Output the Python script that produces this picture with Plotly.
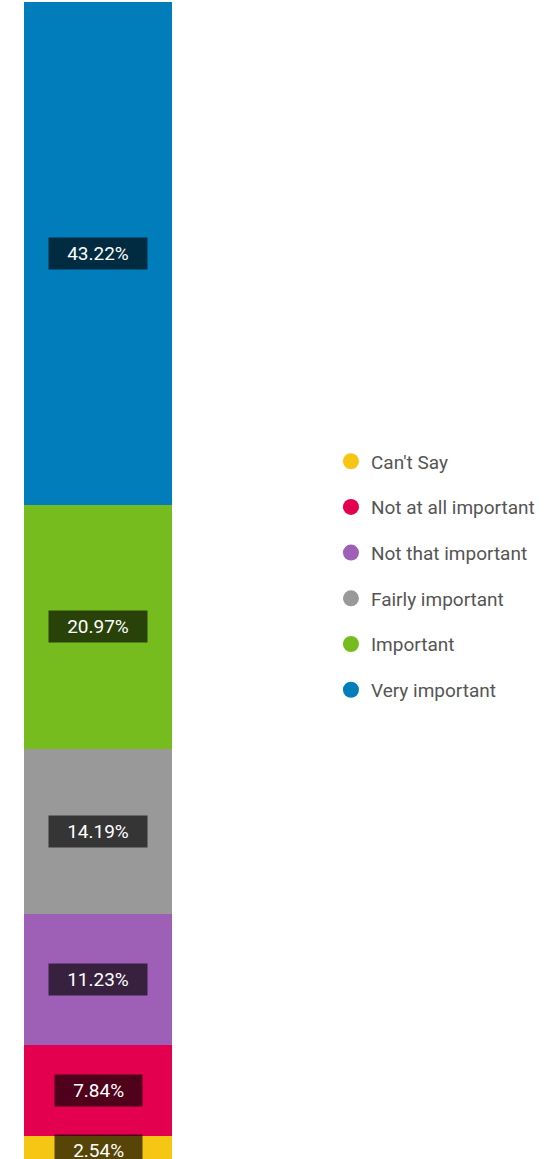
import plotly.graph_objects as go

categories = ["Can't Say", "Not at all important", "Not that important",
              "Fairly important", "Important", "Very important"]
values = [2.54, 7.84, 11.23, 14.19, 20.97, 43.22]
colors = ["#F5C614", "#E2004F", "#9E5FB6", "#999999", "#77BC1F", "#007DBA"]

fig = go.Figure()
cum = 0
annotations = []
for name, v, c in zip(categories, values, colors):
    fig.add_trace(go.Bar(x=["All"], y=[v], name=name, marker=dict(color=c, line=dict(width=0)),
                         showlegend=False, hoverinfo="name+y"))
    annotations.append(dict(x="All", y=cum + v / 2, text=f"   {v:.2f}%   ", showarrow=False,
                            bgcolor="rgba(0,0,0,0.65)", borderpad=4,
                            font=dict(color="white", size=19, family="Roboto")))
    cum += v

for i, (name, c) in enumerate(zip(categories, colors)):
    fig.add_trace(go.Scatter(x=[None], y=[None], mode="markers", name=name,
                             legendgroup=f"g{i}",
                             marker=dict(color=c, size=16, symbol="circle")))

fig.update_layout(
    width=560, height=1159,
    margin=dict(l=24, r=388, t=2, b=0),
    barmode="stack", bargap=0,
    plot_bgcolor="white", paper_bgcolor="white",
    xaxis=dict(visible=False, range=[-0.5, 0.5]),
    yaxis=dict(visible=False, range=[0.55, 99.99]),
    showlegend=True,
    legend=dict(x=2.074, xanchor="left", y=0.504, yanchor="middle",
                traceorder="grouped", tracegroupgap=18, itemwidth=30,
                font=dict(size=19, color="#555555", family="Roboto")),
    annotations=annotations,
)

fig.write_html("out.html", config={"displayModeBar": False},
               post_script="document.body.style.margin='0px';")
